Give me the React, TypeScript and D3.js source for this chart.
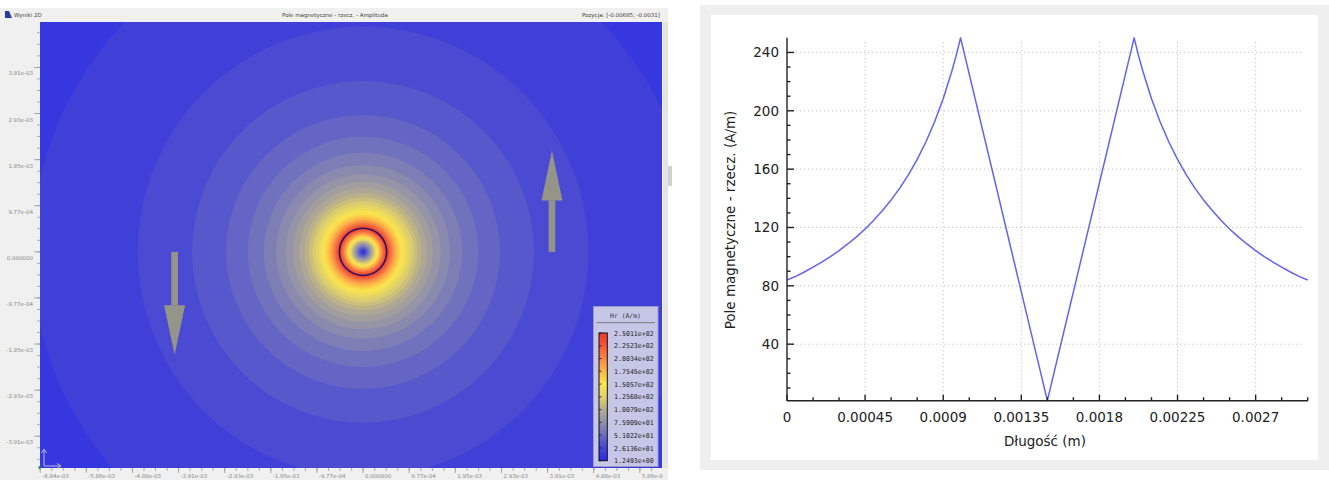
import * as d3 from 'd3'

// ---------- left panel: 2D map of Hr around the conductor ----------
const mapXTicks = [-6.836e-3, -5.859e-3, -4.883e-3, -3.906e-3, -2.93e-3, -1.953e-3, -0.977e-3, 0, 0.977e-3, 1.953e-3, 2.93e-3, 3.906e-3, 4.883e-3, 5.859e-3]
const mapXLabels = ['-6.84e-03', '-5.86e-03', '-4.88e-03', '-3.91e-03', '-2.93e-03', '-1.95e-03', '-9.77e-04', '0.000000', '9.77e-04', '1.95e-03', '2.93e-03', '3.91e-03', '4.88e-03', '5.86e-0']
const mapYTicks = [3.906e-3, 2.93e-3, 1.953e-3, 0.977e-3, 0, -0.977e-3, -1.953e-3, -2.93e-3, -3.906e-3]
const mapYLabels = ['3.91e-03', '2.93e-03', '1.95e-03', '9.77e-04', '0.000000', '-9.77e-04', '-1.95e-03', '-2.93e-03', '-3.91e-03']

// colour scale (legend)
const legendValues = [1.2493, 26.136, 51.022, 75.909, 100.79, 125.68, 150.57, 175.45, 200.34, 225.23, 250.11]
const legendLabels = ['1.2493e+00', '2.6136e+01', '5.1022e+01', '7.5909e+01', '1.0079e+02', '1.2568e+02', '1.5057e+02', '1.7545e+02', '2.0034e+02', '2.2523e+02', '2.5011e+02']
const legendColors = ['#2a2ae8', '#4444d6', '#6a6cc0', '#9090ac', '#b4ac90', '#e2d268', '#fbe64e', '#fcb848', '#f88646', '#f25a38', '#ec3a2a']

// contour levels (A/m) and the radius (m) where each one is crossed, read from the rings
const contourLevels = [9.54, 17.83, 26.12, 34.41, 42.7, 50.99, 59.28, 67.57, 75.86, 84.15, 92.44, 100.73, 109.0, 117.3, 125.6, 133.9, 142.2, 150.5, 158.8, 167.1, 175.4, 183.6, 191.9, 200.2, 208.5, 216.8, 225.1, 233.4, 241.7]
const contourRadii = [13.1e-3, 7.01e-3, 4.77e-3, 3.62e-3, 2.9e-3, 2.44e-3, 2.1e-3, 1.84e-3, 1.64e-3, 1.48e-3, 1.35e-3, 1.24e-3, 1.15e-3, 1.07e-3, 0.995e-3, 0.934e-3, 0.879e-3, 0.831e-3, 0.787e-3, 0.748e-3, 0.713e-3, 0.681e-3, 0.651e-3, 0.624e-3, 0.6e-3, 0.577e-3, 0.555e-3, 0.536e-3, 0.517e-3]
const conductorRadius = 0.5e-3

// current direction arrows: [x, y start, y tip] in metres
const arrows = [
  [4.0e-3, 0, 2.14e-3],
  [-3.99e-3, 0, -2.18e-3],
]

// ---------- right panel: profile along the line ----------
const lengthM = [
  0, 0.00005, 0.0001, 0.00015, 0.0002, 0.00025, 0.0003, 0.00035, 0.0004, 0.00045, 0.0005,
  0.00055, 0.0006, 0.00065, 0.0007, 0.00075, 0.0008, 0.00085, 0.0009, 0.00095, 0.000975, 0.001,
  0.0015,
  0.002, 0.002025, 0.00205, 0.0021, 0.00215, 0.0022, 0.00225, 0.0023, 0.00235, 0.0024, 0.00245,
  0.0025, 0.00255, 0.0026, 0.00265, 0.0027, 0.00275, 0.0028, 0.00285, 0.0029, 0.00295, 0.003,
]
const fieldAm = [
  84, 86.5, 89.5, 92.8, 96.3, 100, 104.2, 108.7, 113.6, 119, 125,
  131.6, 138.9, 147, 156.2, 166.7, 178.6, 192.3, 208.3, 227.3, 238, 250,
  1.25,
  250, 238, 227.3, 208.3, 192.3, 178.6, 166.7, 156.2, 147, 138.9, 131.6,
  125, 119, 113.6, 108.7, 104.2, 100, 96.3, 92.8, 89.5, 86.5, 84,
]
const lineXTicks = [0, 0.00045, 0.0009, 0.00135, 0.0018, 0.00225, 0.0027]
const lineXLabels = ['0', '0.00045', '0.0009', '0.00135', '0.0018', '0.00225', '0.0027']
const lineYTicks = [40, 80, 120, 160, 200, 240]

export default function App() {
  // map scales (same px per metre on both axes)
  const mx = d3.scaleLinear().domain([-6.84e-3, 6.33e-3]).range([40, 662])
  const my = d3.scaleLinear().domain([-4.58e-3, 4.87e-3]).range([468, 22])
  const rpx = (r: number) => mx(r) - mx(0)
  const color = d3.scaleLinear<string>().domain(legendValues).range(legendColors).interpolate(d3.interpolateRgb)
  const vMin = legendValues[0]
  const vMax = legendValues[legendValues.length - 1]
  const tickStep = mapXTicks[1] - mapXTicks[0]
  const minorX = d3.range(mapXTicks[0], 6.33e-3, tickStep / 4)
  const minorY = d3.range(-4.5e-3, 4.87e-3, tickStep / 4).map((v) => Math.round(v / (tickStep / 4)) * (tickStep / 4))
  const bar = d3.scaleLinear().domain([vMin, vMax]).range([460.7, 333])

  // line chart scales
  const lx = d3.scaleLinear().domain([0, 0.003]).range([787, 1307.7])
  const ly = d3.scaleLinear().domain([vMin, vMax]).range([400.7, 37.7])
  const linePath = d3.line<number>().x((_, i) => lx(lengthM[i])).y((d) => ly(d))(fieldAm) || ''
  const minorLX = d3.range(0, 0.0030001, 0.00015)
  const minorLY = d3.range(10, 250, 10)

  const cx = mx(0)
  const cy = my(0)
  const smallFont = '"DejaVu Sans", sans-serif'

  return (
    <div style={{ position: 'absolute', left: 0, top: 0 }}>
      <svg width={1329} height={480} style={{ display: 'block' }}>
        <defs>
          <radialGradient id="core" cx="50%" cy="50%" r="50%">
            {legendValues.map((v, i) => (
              <stop key={i} offset={(v - vMin) / (vMax - vMin)} stopColor={legendColors[i]} />
            ))}
          </radialGradient>
          <linearGradient id="bar" x1="0" y1="1" x2="0" y2="0">
            {legendValues.map((v, i) => (
              <stop key={i} offset={(v - vMin) / (vMax - vMin)} stopColor={legendColors[i]} />
            ))}
          </linearGradient>
          <clipPath id="plotClip">
            <rect x={40} y={22} width={622} height={446} />
          </clipPath>
        </defs>
        <rect width={1329} height={480} fill="#ffffff" />

        {/* ----- left window ----- */}
        <rect x={0} y={8} width={668} height={472} fill="#f0f0f0" />
        <rect x={663} y={22} width={5} height={446} fill="#e4e4e4" />
        <rect x={668} y={166} width={4} height={20} fill="#d0d0d0" />
        <path d="M5,11 L9,11 L12,18 L5,18 Z" fill="#2a3c9a" />
        <text x={14} y={17} fontFamily={smallFont} fontSize={5.5} fill="#444">Wyniki 2D</text>
        <text x={335} y={17} fontFamily={smallFont} fontSize={5.5} fill="#444" textAnchor="middle">Pole magnetyczne - rzecz. - Amplituda</text>
        <text x={660} y={17} fontFamily={smallFont} fontSize={5.5} fill="#444" textAnchor="end">Pozycja: [-0.00685; -0.0031]</text>

        <g clipPath="url(#plotClip)">
          {contourLevels.map((lv, i) => {
            const next = i + 1 < contourLevels.length ? contourLevels[i + 1] : vMax
            return <circle key={i} cx={cx} cy={cy} r={rpx(contourRadii[i])} fill={color((lv + next) / 2)} />
          })}
          <circle cx={cx} cy={cy} r={rpx(conductorRadius)} fill="url(#core)" />
          <circle cx={cx} cy={cy} r={rpx(conductorRadius)} fill="none" stroke="#2e1466" strokeWidth={1.6} />
          {arrows.map(([ax, y0, y1], i) => {
            const dir = Math.sign(y1 - y0)
            const head = 1.05e-3 * dir
            const x = mx(ax)
            const p0 = my(y0)
            const pb = my(y1 - head)
            const pt = my(y1)
            return (
              <g key={i} fill="#959488">
                <rect x={x - 3.3} y={Math.min(p0, pb)} width={6.6} height={Math.abs(pb - p0)} />
                <path d={`M${x - 10.5},${pb} L${x + 10.5},${pb} L${x},${pt} Z`} />
              </g>
            )
          })}
        </g>
        {/* orientation glyph */}
        <g stroke="#b8b8d8" strokeWidth={1} fill="none">
          <path d="M44,466 L44,450 M41.5,453 L44,449 L46.5,453" />
          <path d="M44,466 L60,466 M57,463.5 L61,466 L57,468.5" />
        </g>

        {/* map axes */}
        <g stroke="#999" strokeWidth={0.8}>
          {minorY.filter((v) => my(v) > 22 && my(v) < 468).map((v, i) => (
            <line key={'my' + i} x1={37} x2={40} y1={my(v)} y2={my(v)} />
          ))}
          {mapYTicks.map((v, i) => (
            <line key={'My' + i} x1={34} x2={40} y1={my(v)} y2={my(v)} />
          ))}
          {minorX.map((v, i) => (
            <line key={'mx' + i} x1={mx(v)} x2={mx(v)} y1={468} y2={471} />
          ))}
          {mapXTicks.map((v, i) => (
            <line key={'Mx' + i} x1={mx(v)} x2={mx(v)} y1={468} y2={473} />
          ))}
        </g>
        <rect x={38.5} y={466} width={2} height={3} fill="#3a9a3a" />
        {mapYTicks.map((v, i) => (
          <text key={'yl' + i} x={33} y={my(v) + 8} fontFamily={smallFont} fontSize={5.5} fill="#888" textAnchor="end">
            {mapYLabels[i]}
          </text>
        ))}
        {mapXTicks.map((v, i) => (
          <text key={'xl' + i} x={mx(v) + 2} y={478} fontFamily={smallFont} fontSize={5.5} fill="#888">
            {mapXLabels[i]}
          </text>
        ))}

        {/* legend */}
        <rect x={593.5} y={306.5} width={64.5} height={160} fill="#c6c6e6" stroke="#9a9ac8" strokeWidth={1} />
        <text x={625.5} y={318} fontFamily='"DejaVu Sans Mono", monospace' fontSize={6.4} fill="#333" textAnchor="middle">Hr (A/m)</text>
        <line x1={596.5} x2={655} y1={322.7} y2={322.7} stroke="#666" strokeWidth={0.8} />
        <rect x={599} y={333} width={8.3} height={127.7} fill="url(#bar)" stroke="#111" strokeWidth={1} />
        {legendValues.map((v, i) => (
          <g key={'lg' + i}>
            <line x1={599} x2={601.5} y1={bar(v)} y2={bar(v)} stroke="#111" strokeWidth={0.8} />
            <text x={614} y={bar(v) + 2.6} fontFamily='"DejaVu Sans Mono", monospace' fontSize={6.6} fill="#222">
              {legendLabels[i]}
            </text>
          </g>
        ))}

        {/* ----- right window ----- */}
        <rect x={700} y={5} width={629} height={465} fill="#efefef" />
        <rect x={711} y={15} width={607} height={445} fill="#ffffff" />

        <g stroke="#c4c4c4" strokeWidth={1} strokeDasharray="1.2,2.8">
          {lineYTicks.map((v) => (
            <line key={'gy' + v} x1={lx(0) + 1} x2={1304} y1={ly(v)} y2={ly(v)} />
          ))}
          {lineXTicks.slice(1).map((v) => (
            <line key={'gx' + v} x1={lx(v)} x2={lx(v)} y1={42} y2={ly(vMin) - 1} />
          ))}
        </g>
        <path d={linePath} fill="none" stroke="#6262f2" strokeWidth={1.5} strokeLinejoin="round" />

        <g stroke="#222" strokeWidth={1.4}>
          <line x1={lx(0)} x2={lx(0)} y1={ly(vMax)} y2={ly(vMin)} />
          <line x1={lx(0)} x2={lx(0.003)} y1={ly(vMin)} y2={ly(vMin)} />
          {minorLY.map((v) => (
            <line key={'ty' + v} x1={lx(0)} x2={lx(0) + (v % 40 === 0 ? 7 : 3.5)} y1={ly(v)} y2={ly(v)} />
          ))}
          {minorLX.map((v, i) => (
            <line key={'tx' + i} x1={lx(v)} x2={lx(v)} y1={ly(vMin)} y2={ly(vMin) - (i % 3 === 0 ? 6 : 3.5)} />
          ))}
        </g>
        {lineYTicks.map((v) => (
          <text key={'ly' + v} x={779} y={ly(v) + 5} fontFamily={smallFont} fontSize={13.5} fill="#222" textAnchor="end">
            {v}
          </text>
        ))}
        {lineXTicks.map((v, i) => (
          <text key={'lx' + i} x={lx(v)} y={422} fontFamily={smallFont} fontSize={13.5} fill="#222" textAnchor="middle">
            {lineXLabels[i]}
          </text>
        ))}
        <text x={1045} y={446} fontFamily={smallFont} fontSize={13.5} fill="#222" textAnchor="middle">Długość (m)</text>
        <text
          transform="translate(735,220) rotate(-90)"
          fontFamily={smallFont}
          fontSize={13.5}
          fill="#222"
          textAnchor="middle"
        >
          Pole magnetyczne - rzecz. (A/m)
        </text>
      </svg>
    </div>
  )
}
